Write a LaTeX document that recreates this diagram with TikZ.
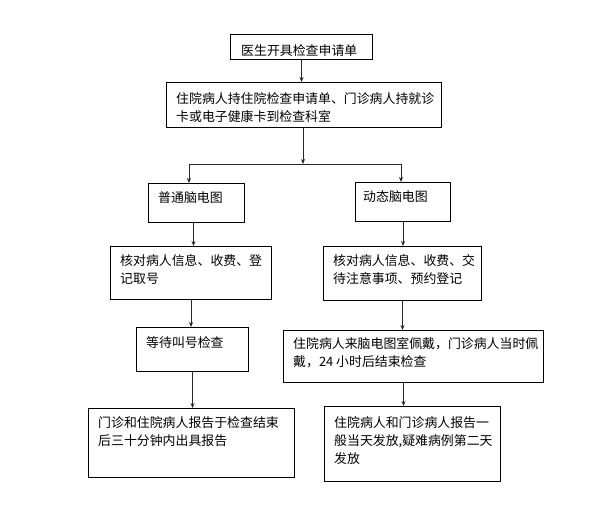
\documentclass[tikz,border=0pt]{standalone}
\usepackage{fontspec}
\setmainfont{Noto Sans CJK SC}
\usetikzlibrary{arrows.meta}
\begin{document}
\begin{tikzpicture}[x=1pt,y=-1pt,
  box/.style={draw=black,line width=1pt,inner sep=0pt,anchor=north west},
  txt/.style={anchor=north west,inner sep=0pt,align=left,font=\fontsize{12.9}{18}\selectfont},
  arr/.style={draw=black!85,line width=0.9pt,-{Stealth[length=5pt,width=4pt]}},
  ln/.style={draw=black!85,line width=0.9pt}]
\fill[white] (0,0) rectangle (599,517);
\useasboundingbox (0,0) rectangle (599,517);
% boxes
\node[box,minimum width=142pt,minimum height=25pt] (b1) at (230,34) {};
\node[box,minimum width=275pt,minimum height=45pt] (b2) at (166,82) {};
\node[box,minimum width=96pt,minimum height=39pt] (b3) at (148,183) {};
\node[box,minimum width=95pt,minimum height=39pt] (b4) at (355,182) {};
\node[box,minimum width=161pt,minimum height=53pt] (b5) at (110,246) {};
\node[box,minimum width=158pt,minimum height=54pt] (b6) at (323,246) {};
\node[box,minimum width=112pt,minimum height=44pt] (b7) at (136,327) {};
\node[box,minimum width=260pt,minimum height=52pt] (b8) at (283,330) {};
\node[box,minimum width=206pt,minimum height=69pt] (b9) at (88,408) {};
\node[box,minimum width=176pt,minimum height=75pt] (b10) at (324,406) {};
% texts
\node[txt] (t1) at ([xshift=11pt,yshift=-10pt]b1.north west) {医生开具检查申请单};
\node[txt] (t2) at ([xshift=10pt,yshift=-10.5pt]b2.north west) {住院病人持住院检查申请单、门诊病人持就诊\\卡或电子健康卡到检查科室};
\node[txt] (t3) at ([xshift=10pt,yshift=-8pt]b3.north west) {普通脑电图};
\node[txt] (t4) at ([xshift=8pt,yshift=-8pt]b4.north west) {动态脑电图};
\node[txt] (t5) at ([xshift=10pt,yshift=-8pt]b5.north west) {核对病人信息、收费、登\\记取号};
\node[txt] (t6) at ([xshift=10pt,yshift=-8pt]b6.north west) {核对病人信息、收费、交\\待注意事项、预约登记};
\node[txt] (t7) at ([xshift=10pt,yshift=-9.5pt]b7.north west) {等待叫号检查};
\node[txt] (t8) at ([xshift=10pt,yshift=-7.5pt]b8.north west) {住院病人来脑电图室佩戴，门诊病人当时佩\\戴，24 小时后结束检查};
\node[txt] (t9) at ([xshift=10pt,yshift=-8.5pt]b9.north west) {门诊和住院病人报告于检查结束\\后三十分钟内出具报告};
\node[txt] (t10) at ([xshift=10pt,yshift=-10.5pt]b10.north west) {住院病人和门诊病人报告一\\般当天发放,疑难病例第二天\\发放};
% connectors
\coordinate (j) at (303,164);
\coordinate (jl) at (189,164);
\coordinate (jr) at (401,164);
\draw[arr] (b1.south) -- (b1.south |- b2.north);
\draw[arr] (b2.south -| j) -- (j);
\draw[ln] (jl) -- (jr);
\draw[arr] (jl) -- (jl |- b3.north);
\draw[arr] (jr) -- (jr |- b4.north);
\draw[arr] ([xshift=-3pt]b3.south) -- ([xshift=-3pt]b3.south |- b5.north);
\draw[arr] (b4.south) -- (b4.south |- b6.north);
\draw[arr] (b5.south) -- (b5.south |- b7.north);
\draw[arr] (b7.south) -- (b7.south |- b9.north);
\draw[arr] (b6.south) -- (b6.south |- b8.north);
\draw[arr] ([xshift=-10pt]b8.south) -- ([xshift=-10pt]b8.south |- b10.north);
\end{tikzpicture}
\end{document}
